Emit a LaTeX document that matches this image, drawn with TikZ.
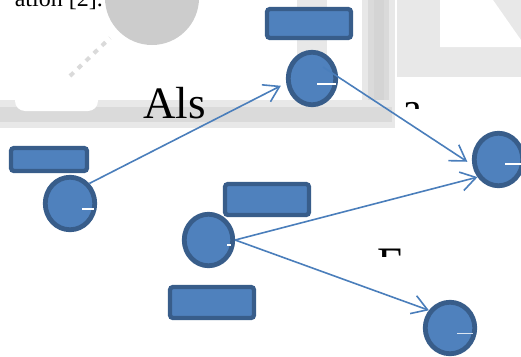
\documentclass[tikz,border=0pt]{standalone}
\usepackage{fontspec}
\setmainfont{Liberation Serif}
\usetikzlibrary{shapes.geometric,arrows.meta,calc}
\definecolor{nodefill}{HTML}{4F81BD}
\definecolor{nodeline}{HTML}{385D8A}
\definecolor{arrowc}{HTML}{4A7EBB}
\definecolor{bgA}{HTML}{CCCCCC}
\definecolor{bgB}{HTML}{DADADA}
\definecolor{bgC}{HTML}{E8E8E8}
\tikzset{
  circnode/.style={ellipse,draw=nodeline,fill=nodefill,line width=4.8pt,inner sep=0pt},
  rectnode/.style={rectangle,rounded corners=3pt,draw=nodeline,fill=nodefill,line width=4.3pt,inner sep=0pt},
  link/.style={draw=arrowc,line width=1.6pt,-{Straight Barb[length=15pt,width=19pt]}},
  caret/.style={draw=white,line width=1.2pt},
  bigtext/.style={inner sep=0pt,anchor=base west,font=\fontsize{45}{45}\selectfont}
}
\begin{document}
\begin{tikzpicture}[x=1pt,y=-1pt]
\useasboundingbox (0,0) rectangle (521,356);
\clip (0,0) rectangle (521,356);
% ---- faded background ----
\fill[bgA] (152,-2) circle (47);
\draw[bgB,line width=4pt,dash pattern=on 5pt off 6pt] (70,76) -- (110,38);
\fill[bgC] (397,0) rectangle (521,77);
\fill[white] (440,0) -- (493,0) -- (521,40) -- (521,47) -- (440,47) -- cycle;
\fill[bgC] (297,0) rectangle (327,60);
\fill[bgC] (362,0) rectangle (395,114);
\fill[bgB] (368,0) rectangle (389,110);
\fill[bgA!85!white] (374,0) rectangle (384,106);
\fill[bgC] (0,100) rectangle (395,128);
\fill[bgB] (0,107) rectangle (392,122);
\fill[white] (15,90) [rounded corners=10pt] -- (15,111) -- (98,111) -- (98,90) -- cycle;
% ---- texts ----
\node[inner sep=0pt,anchor=base east,font=\fontsize{24}{24}\selectfont] (cite) at (103,6) {ation [2].};
\node[bigtext] (als) at (143,118) {Als};
\begin{scope}
  \clip (395,90) rectangle (430,108);
  \node[bigtext] (ta) at (402,123) {a};
\end{scope}
\begin{scope}
  \clip (370,240) rectangle (410,256);
  \node[bigtext] (te) at (377,278) {E};
\end{scope}
% ---- boxes ----
\node[rectnode,minimum width=84pt,minimum height=29pt] (rt) at (309,23.5) {};
\node[rectnode,minimum width=76pt,minimum height=23pt] (rl) at (49,159.5) {};
\node[rectnode,minimum width=84pt,minimum height=31pt] (rm) at (267,199.5) {};
\node[rectnode,minimum width=84pt,minimum height=31pt] (rb) at (212,302.5) {};
% ---- circles ----
\node[circnode,minimum width=47.5pt,minimum height=52.5pt] (tc) at (312,78.5) {};
\node[circnode,minimum width=49.5pt,minimum height=52.5pt] (lc) at (70,203.5) {};
\node[circnode,minimum width=48.5pt,minimum height=51.5pt] (mc) at (208.5,240) {};
\node[circnode,minimum width=48.5pt,minimum height=52.5pt] (rc) at (498.5,159.5) {};
\node[circnode,minimum width=49.5pt,minimum height=51.5pt] (bc) at (450,328) {};
% ---- connectors ----
\draw[link,shorten >=6pt] (lc.46) -- (tc.190);
\draw[link,shorten >=6pt] ([shift={(11,-11.5)}]tc.center) -- (rc.192);
\draw[link] (mc.east) -- (rc.220);
\draw[link] (mc.east) -- (bc.140);
% ---- small white cursor marks ----
\draw[caret] (317,84) -- (336,84);
\draw[caret] (82,209) -- (94,209);
\draw[caret] (227,245) -- (231,245);
\draw[caret] (505,164) -- (521,164);
\draw[caret,draw=white!80!nodefill,line width=0.8pt] (457,333) -- (473,333);
\end{tikzpicture}
\end{document}
